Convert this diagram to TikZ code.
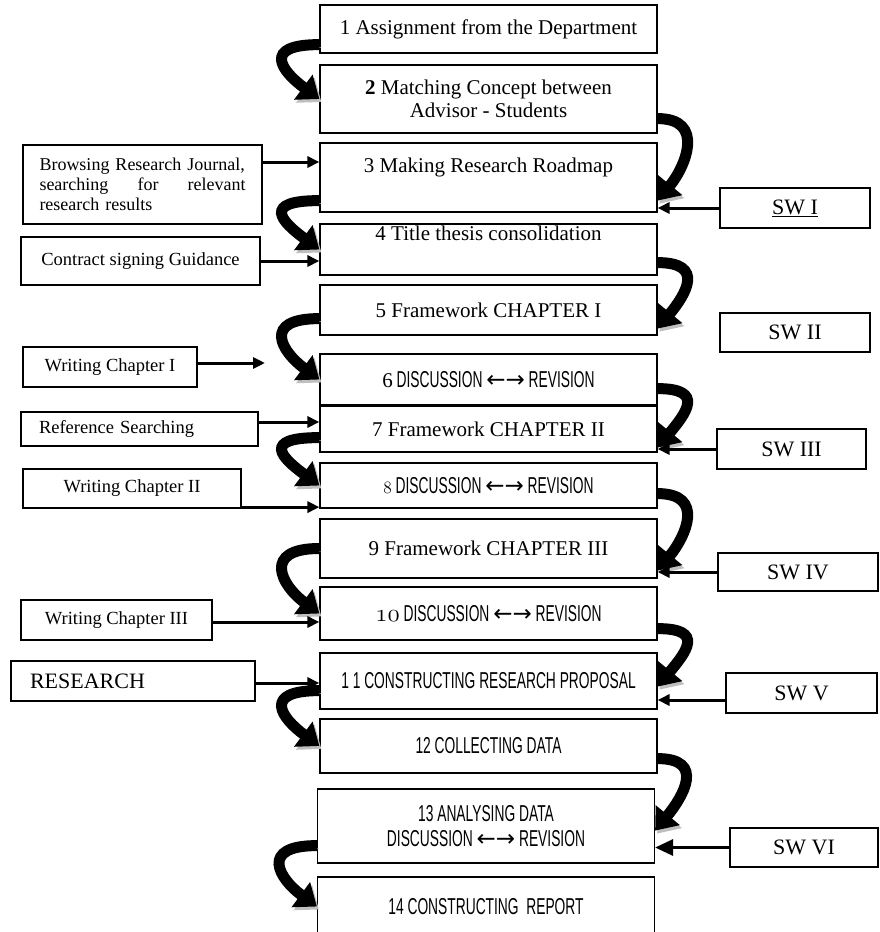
\documentclass[tikz,border=0pt]{standalone}
\usepackage{fontspec}
\setmainfont{Liberation Serif}
\newfontfamily\condfont[FakeStretch=0.6]{Liberation Sans}
\newfontfamily\arrowfont{DejaVu Sans}
\usetikzlibrary{arrows.meta,calc}
\newcommand{\twoway}{{\arrowfont ←→}}

\tikzset{
  stepbox/.style={draw, line width=1.2pt, minimum width=337pt, inner sep=2pt, align=center, font=\fontsize{21}{23}\selectfont},
  capsbox/.style={stepbox, font=\condfont\fontsize{23}{25}\selectfont},
  sidebox/.style={draw, line width=1.2pt, inner sep=2pt, align=center, font=\fontsize{18.5}{20}\selectfont},
  swbox/.style={draw, line width=1.2pt, minimum height=40pt, inner sep=2pt, font=\fontsize{22}{24}\selectfont},
  feed/.style={line width=3pt, -{Triangle[length=12pt,width=11pt]}},
  curvy/.style={line width=11pt, -{Triangle[length=20pt,width=30pt]},
    preaction={draw=black!25, transform canvas={shift={(2pt,-3pt)}}}},
}

\begin{document}
\begin{tikzpicture}[x=1pt,y=1pt]
\useasboundingbox (0,0) rectangle (880,-932);
% main steps
\node[stepbox, minimum height=48pt] (A) at (488.5,-29) {1 Assignment from the Department};
\node[stepbox, minimum height=68pt] (B) at (488.5,-99) {\textbf{2} Matching Concept between\\Advisor - Students};
\node[stepbox, minimum height=69pt, text height=14pt, text depth=25pt] (C) at (488.5,-177.5) {3 Making Research Roadmap};
\node[stepbox, minimum height=51pt, text height=14pt, text depth=32pt] (D) at (488.5,-249.5) {4 Title thesis consolidation};
\node[stepbox, minimum height=50pt] (E) at (488.5,-310) {5 Framework CHAPTER I};
\node[capsbox, minimum height=51pt] (F) at (488.5,-379.5) {{\rmfamily\fontsize{21}{23}\selectfont 6} DISCUSSION \twoway{} REVISION};
\node[stepbox, minimum height=46pt] (G) at (488.5,-429) {7 Framework CHAPTER II};
\node[capsbox, minimum height=45pt] (H) at (488.5,-485.5) {{\fontsize{19}{21}\selectfont$\mathnormal{8}$} DISCUSSION \twoway{} REVISION};
\node[stepbox, minimum height=59pt] (I) at (488.5,-548.5) {9 Framework CHAPTER III};
\node[capsbox, minimum height=53pt] (J) at (488.5,-613.5) {$\mathnormal{10}$ DISCUSSION \twoway{} REVISION};
\node[capsbox, minimum height=56pt] (K) at (488.5,-681) {1\,1 CONSTRUCTING RESEARCH PROPOSAL};
\node[capsbox, minimum height=54pt] (L) at (488.5,-746) {12 COLLECTING DATA};
\node[capsbox, minimum height=74pt] (M) at (486,-826) {13 ANALYSING DATA\\DISCUSSION \twoway{} REVISION};
\node[capsbox, minimum height=59pt] (N) at (486,-906.5) {14 CONSTRUCTING\ \ REPORT};
% left inputs
\node[sidebox, minimum width=239pt, minimum height=79pt, text width=206pt, align=left, font=\fontsize{18}{20}\selectfont] (Cl) at (142.5,-184.5) {Browsing Research Journal,\\searching\hfill for\hfill relevant\\research results};
\node[sidebox, minimum width=239pt, minimum height=48pt] (Dl) at (140.5,-261) {Contract signing Guidance};
\node[sidebox, minimum width=174pt, minimum height=40pt] (Fl) at (110,-367) {Writing Chapter I};
\node[sidebox, minimum width=237pt, minimum height=34pt, text width=201pt, align=left] (Gl) at (139.5,-429) {Reference Searching};
\node[sidebox, minimum width=218pt, minimum height=39pt] (Hl) at (132,-488.5) {Writing Chapter II};
\node[sidebox, minimum width=191pt, minimum height=40pt] (Jl) at (116.5,-620) {Writing Chapter III};
\node[sidebox, minimum width=244pt, minimum height=40pt, text width=206pt, align=left, font=\fontsize{22}{24}\selectfont] (Kl) at (133,-681) {RESEARCH};
% right inputs
\node[swbox, minimum width=150pt] (Cr) at (795,-208) {\underline{SW I}};
\node[swbox, minimum width=150pt, minimum height=39pt] (Er) at (795,-332.5) {SW II};
\node[swbox, minimum width=149pt] (Gr) at (791.5,-449) {SW III};
\node[swbox, minimum width=160pt, minimum height=38pt] (Ir) at (798,-572) {SW IV};
\node[swbox, minimum width=151pt] (Kr) at (801.5,-693) {SW V};
\node[swbox, minimum width=148pt, minimum height=39pt] (Mr) at (804,-847.5) {SW VI};
\coordinate (Fe) at (265,-363);

% flow, left side
\draw[curvy] ($(A.south west)+(0,9)$) .. controls +(-58,0) and +(-38,28) .. (B.west);
\draw[curvy] ($(C.south west)+(0,12)$) .. controls +(-58,0) and +(-38,28) .. (D.west);
\draw[curvy] ($(E.south west)+(0,17)$) .. controls +(-58,0) and +(-38,28) .. (F.west);
\draw[curvy] ($(G.south west)+(0,15)$) .. controls +(-58,0) and +(-38,28) .. (H.west);
\draw[curvy] (I.west) .. controls +(-58,0) and +(-38,28) .. (J.west);
\draw[curvy] ($(K.south west)+(0,19)$) .. controls +(-58,0) and +(-38,28) .. (L.west);
\draw[curvy] ($(M.south west)+(0,18)$) .. controls +(-58,0) and +(-38,28) .. (N.west);
% flow, right side
\draw[curvy] ($(B.south east)+(0,15)$) .. controls +(48,0) and +(28,34) .. ($(C.south east)+(0,12)$);
\draw[curvy] ($(D.south east)+(0,13)$) .. controls +(48,0) and +(28,34) .. ($(E.south east)+(0,7)$);
\draw[curvy] ($(F.south east)+(0,17)$) .. controls +(48,0) and +(28,34) .. ($(G.south east)+(0,5)$);
\draw[curvy] ($(H.south east)+(0,15)$) .. controls +(48,0) and +(28,34) .. ($(I.south east)+(0,8)$);
\draw[curvy] ($(J.south east)+(0,12)$) .. controls +(48,0) and +(28,34) .. ($(K.south east)+(0,23)$);
\draw[curvy] ($(L.south east)+(0,15)$) .. controls +(48,0) and +(28,34) .. ($(M.south east)+(0,33)$);

% inputs
\draw[feed] ([yshift=22.5]Cl.east) -- ([yshift=22.5]Cl.east -| C.west);
\draw[feed] (Dl.east) -- (Dl.east -| D.west);
\draw[feed] (Fl.east |- Fe) -- (Fe);
\draw[feed] ([yshift=7]Gl.east) -- ([yshift=7]Gl.east -| G.west);
\draw[feed] ([yshift=1.5]Hl.south east) -- ([yshift=1.5]Hl.south east -| H.west);
\draw[feed] ([yshift=-2]Jl.east) -- ([yshift=-2]Jl.east -| J.west);
\draw[feed] ([yshift=-2]Kl.east) -- ([yshift=-2]Kl.east -| K.west);
\draw[feed] (Cr.west) -- (Cr.west -| C.east);
\draw[feed] (Gr.west) -- (Gr.west -| G.east);
\draw[feed] (Ir.west) -- (Ir.west -| I.east);
\draw[feed] ([yshift=-7]Kr.west) -- ([yshift=-7]Kr.west -| K.east);
\draw[feed, -{Triangle[length=18pt,width=16pt]}] (Mr.west) -- (Mr.west -| M.east);
\end{tikzpicture}
\end{document}
